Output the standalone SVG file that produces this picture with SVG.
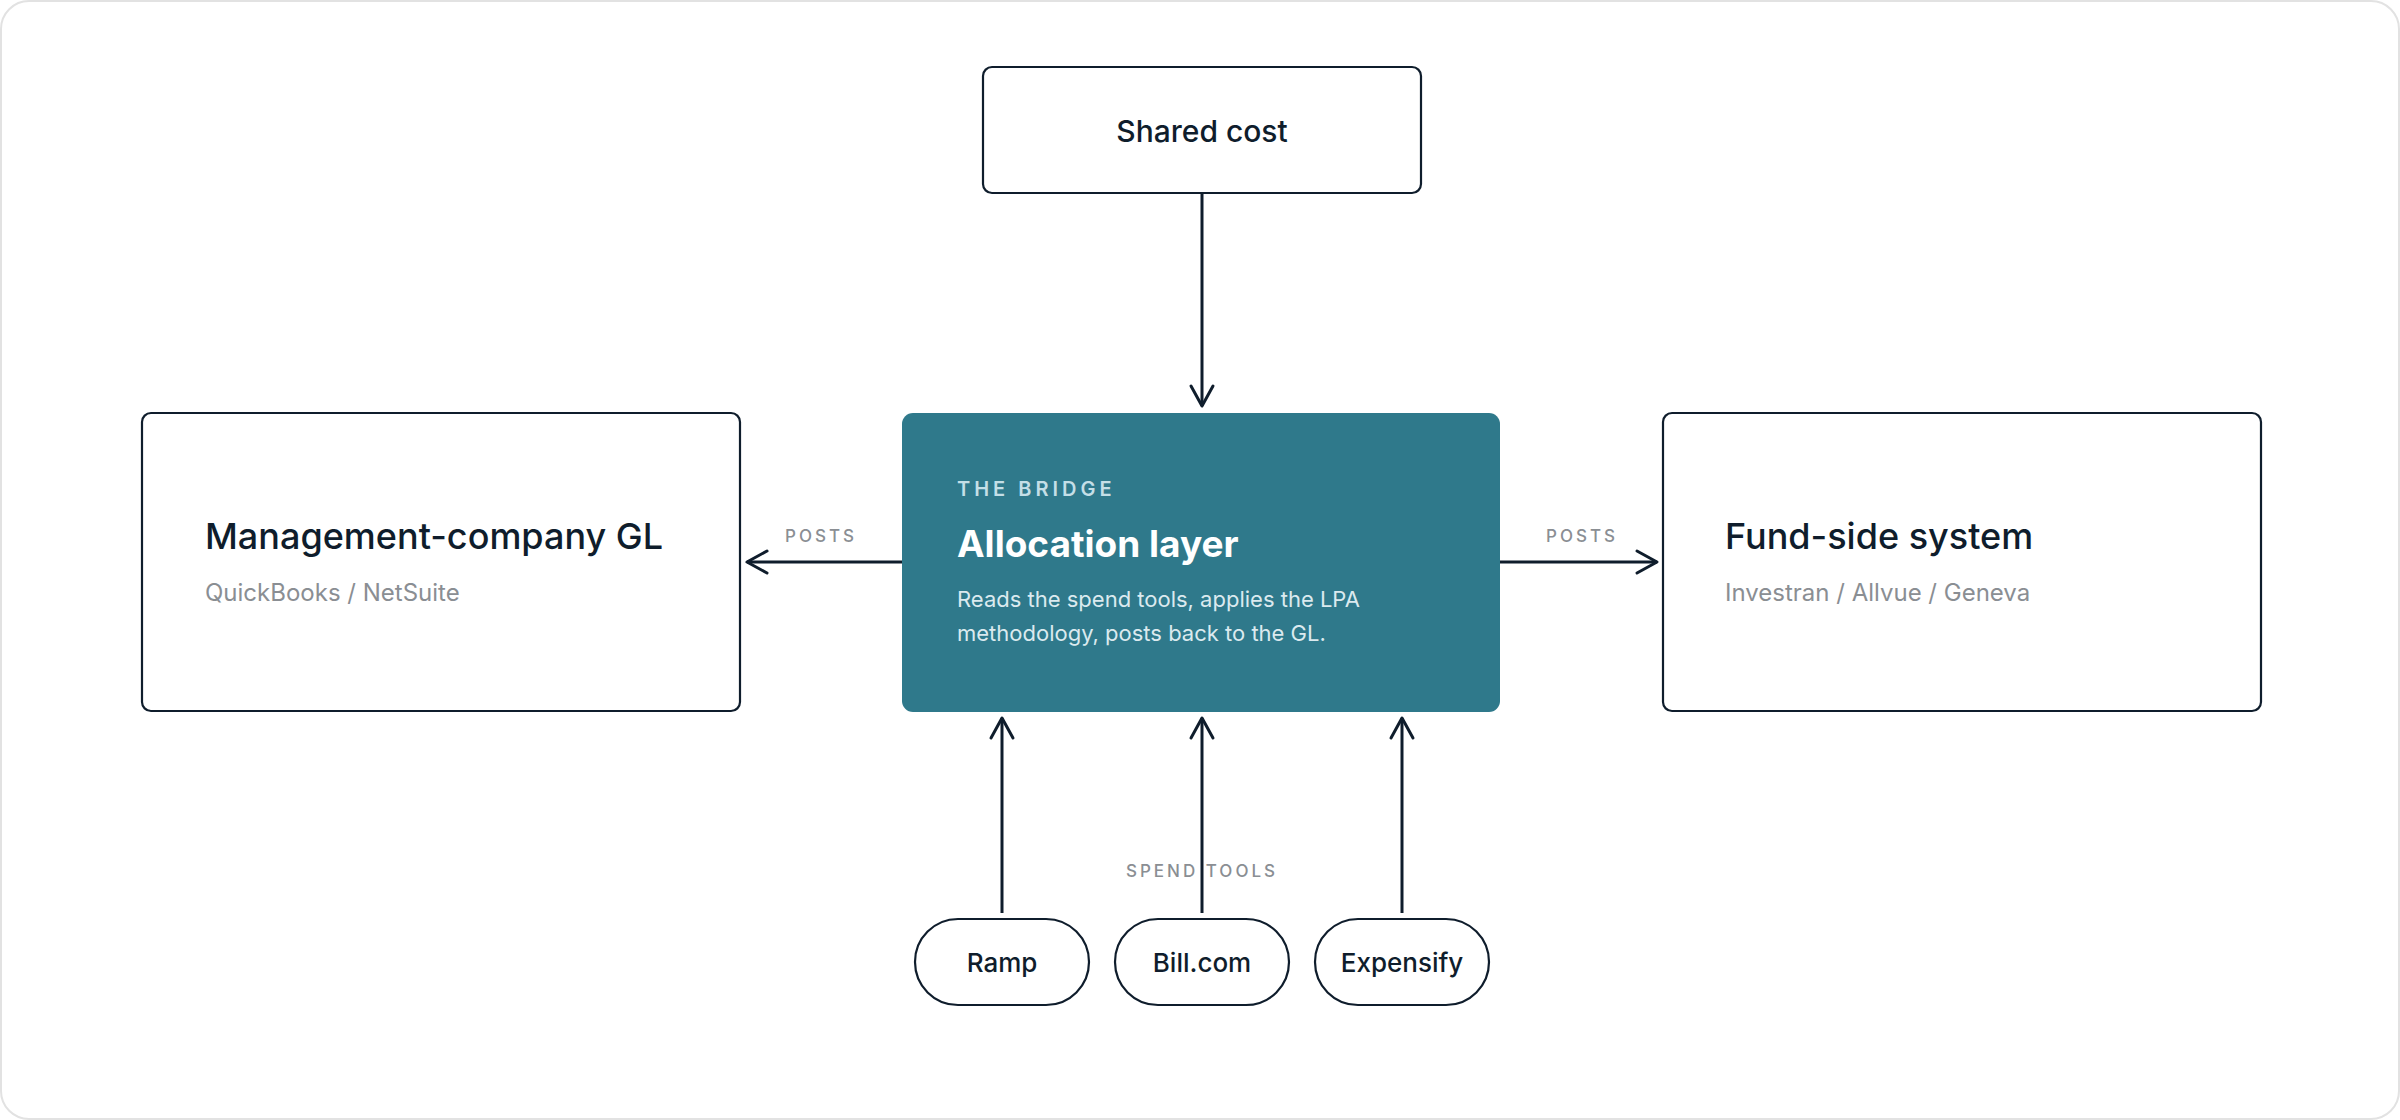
<svg xmlns="http://www.w3.org/2000/svg" width="2400" height="1120" viewBox="0 0 2400 1120">
<defs>
<marker id="arr" viewBox="-24 -14 28 28" markerWidth="28" markerHeight="28" refX="0" refY="0" markerUnits="userSpaceOnUse" orient="auto">
<path d="M-20,-11 L0,0 L-20,11" fill="none" stroke="#0f1d2c" stroke-width="3" stroke-linecap="round" stroke-linejoin="round"/>
</marker>
<style>
.box{fill:#ffffff;stroke:#0f1d2c;stroke-width:2.2}
.pill{fill:#ffffff;stroke:#0f1d2c;stroke-width:2.2}
.title{font-family:Inter,"Liberation Sans",sans-serif;font-weight:500;font-size:36px;fill:#0f1d2c}
.sub{font-family:Inter,"Liberation Sans",sans-serif;font-weight:400;font-size:24px;fill:#8a8e93}
.lbl{font-family:Inter,"Liberation Sans",sans-serif;font-weight:500;font-size:17px;fill:#8a8e93;letter-spacing:3px}
.pt{font-family:Inter,"Liberation Sans",sans-serif;font-weight:500;font-size:26px;fill:#0f1d2c;text-anchor:middle}
.conn{fill:none;stroke:#0f1d2c;stroke-width:3}
</style>
</defs>
<rect x="1" y="1" width="2398" height="1118" rx="28" fill="#ffffff" stroke="#e2e2e2" stroke-width="2"/>
<g id="connectors">
<path class="conn" d="M1202,193 L1202,406" marker-end="url(#arr)"/>
<path class="conn" d="M902,562 L747,562" marker-end="url(#arr)"/>
<path class="conn" d="M1500,562 L1657,562" marker-end="url(#arr)"/>
<path class="conn" d="M1002,913 L1002,718" marker-end="url(#arr)"/>
<path class="conn" d="M1202,913 L1202,718" marker-end="url(#arr)"/>
<path class="conn" d="M1402,913 L1402,718" marker-end="url(#arr)"/>
<text class="lbl" x="821" y="542" text-anchor="middle">POSTS</text>
<text class="lbl" x="1582" y="542" text-anchor="middle">POSTS</text>
<text class="lbl" x="1202" y="877" text-anchor="middle">SPEND TOOLS</text>
</g>
<g id="shared-cost">
<rect class="box" x="983" y="67" width="438" height="126" rx="9"/>
<text class="pt" x="1202" y="142" style="font-size:30px">Shared cost</text>
</g>
<g id="mgmt-gl">
<rect class="box" x="142" y="413" width="598" height="298" rx="9"/>
<text class="title" x="205" y="549">Management-company GL</text>
<text class="sub" x="205" y="601">QuickBooks / NetSuite</text>
</g>
<g id="allocation-layer">
<rect x="902" y="413" width="598" height="299" rx="11" fill="#2f798b"/>
<text x="957" y="496" style="font-family:Inter,'Liberation Sans',sans-serif;font-weight:600;font-size:20px;letter-spacing:4px;fill:#c4dfe7">THE BRIDGE</text>
<text x="957" y="557" style="font-family:Inter,'Liberation Sans',sans-serif;font-weight:700;font-size:37px;fill:#ffffff">Allocation layer</text>
<text x="957" y="607" style="font-family:Inter,'Liberation Sans',sans-serif;font-weight:400;font-size:22px;fill:#dbeaef">Reads the spend tools, applies the LPA</text>
<text x="957" y="641" style="font-family:Inter,'Liberation Sans',sans-serif;font-weight:400;font-size:22px;fill:#dbeaef">methodology, posts back to the GL.</text>
</g>
<g id="fund-side">
<rect class="box" x="1663" y="413" width="598" height="298" rx="9"/>
<text class="title" x="1725" y="549">Fund-side system</text>
<text class="sub" x="1725" y="601">Investran / Allvue / Geneva</text>
</g>
<g id="ramp">
<rect class="pill" x="915" y="919" width="174" height="86" rx="43"/>
<text class="pt" x="1002" y="972">Ramp</text>
</g>
<g id="billcom">
<rect class="pill" x="1115" y="919" width="174" height="86" rx="43"/>
<text class="pt" x="1202" y="972">Bill.com</text>
</g>
<g id="expensify">
<rect class="pill" x="1315" y="919" width="174" height="86" rx="43"/>
<text class="pt" x="1402" y="972">Expensify</text>
</g>
</svg>
